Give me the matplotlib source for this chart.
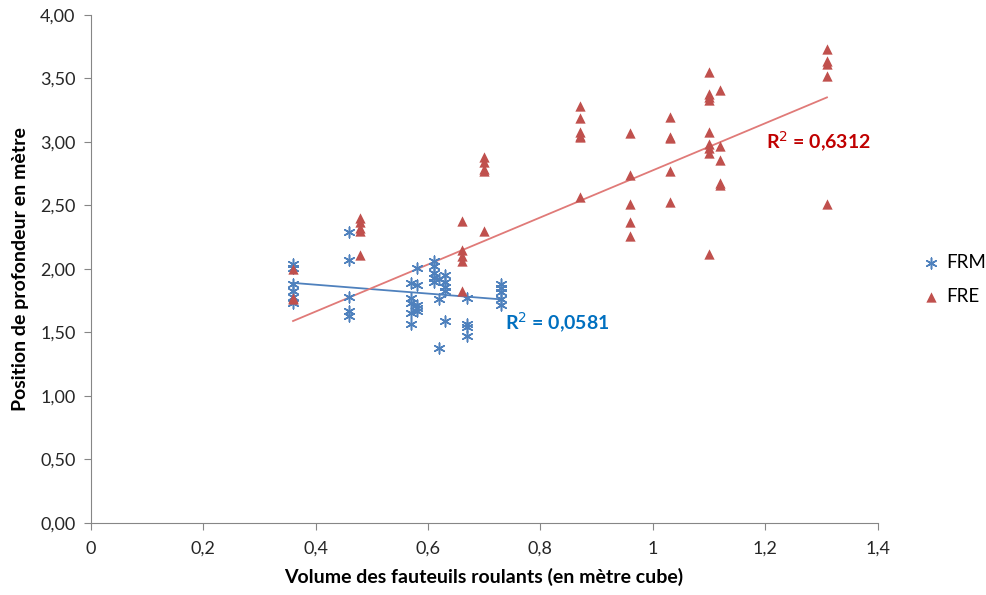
import matplotlib.pyplot as plt
import numpy as np

plt.rcParams['font.family'] = ['Lato', 'DejaVu Sans']

# FRM series (volume, depth)
frm_x = [0.36] * 6 + [0.46] * 5 + [0.57] * 5 + [0.58] * 5 + [0.61] * 5 + [0.62] * 3 + [0.63] * 5 + [0.67] * 4 + [0.73] * 5
frm_y = [2.04, 2.01, 1.88, 1.83, 1.78, 1.73,
         2.29, 2.07, 1.78, 1.67, 1.63,
         1.89, 1.77, 1.73, 1.65, 1.57,
         2.01, 1.87, 1.72, 1.69, 1.67,
         2.06, 2.02, 1.97, 1.93, 1.90,
         1.92, 1.76, 1.38,
         1.95, 1.90, 1.86, 1.83, 1.59,
         1.77, 1.57, 1.54, 1.47,
         1.88, 1.85, 1.82, 1.76, 1.72]

# FRE series
fre_x = [0.36] * 3 + [0.48] * 5 + [0.66] * 5 + [0.70] * 5 + [0.87] * 6 + [0.96] * 5 + [1.03] * 5 + [1.10] * 9 + [1.12] * 5 + [1.31] * 5
fre_y = [2.00, 1.77, 1.76,
         2.40, 2.37, 2.32, 2.30, 2.11,
         2.38, 2.15, 2.10, 2.06, 1.83,
         2.88, 2.84, 2.79, 2.77, 2.30,
         3.28, 3.19, 3.08, 3.05, 3.04, 2.57,
         3.07, 2.74, 2.51, 2.37, 2.26,
         3.20, 3.04, 3.03, 2.77, 2.53,
         3.55, 3.38, 3.35, 3.33, 3.08, 2.98, 2.95, 2.91, 2.12,
         3.41, 2.97, 2.86, 2.68, 2.66,
         3.73, 3.64, 3.61, 3.52, 2.51]

# trendline coefficients (slope, intercept)
frm_trend = [-0.35, 2.016]
fre_trend = [1.853, 0.923]

frm_r2 = 'R$^2$ = 0,0581'
fre_r2 = 'R$^2$ = 0,6312'

blue = '#4F81BD'
red = '#C0504D'

fig = plt.figure(figsize=(9.86, 5.95), dpi=100)
ax = fig.add_axes([0.092, 0.121, 0.798, 0.854])

ax.scatter(frm_x, frm_y, marker=(6, 2, 0), s=60, color=blue, linewidths=1.1, label='FRM', zorder=3)
ax.scatter(fre_x, fre_y, marker='^', s=55, color=red, linewidths=0, label='FRE', zorder=3)

# linear trendlines over each series' x-range
for xs, (a, b), c in [(frm_x, frm_trend, blue), (fre_x, fre_trend, '#E07A78')]:
    xx = np.array([min(xs), max(xs)])
    ax.plot(xx, a * xx + b, color=c, lw=1.3, zorder=2)

ax.text(0.737, 1.575, frm_r2, color='#0070C0', fontsize=14, fontweight='bold', va='center')
ax.text(1.201, 3.0, fre_r2, color='#C00000', fontsize=14, fontweight='bold', va='center')

ax.set_xlim(0, 1.4)
ax.set_ylim(0, 4)
ax.set_xticks(np.arange(0, 1.41, 0.2))
ax.set_xticklabels(['0', '0,2', '0,4', '0,6', '0,8', '1', '1,2', '1,4'])
ax.set_yticks(np.arange(0, 4.01, 0.5))
ax.set_yticklabels([f'{v:.2f}'.replace('.', ',') for v in np.arange(0, 4.01, 0.5)])
ax.tick_params(labelsize=13, colors='#262626', length=5, color='#868686')
ax.tick_params(axis='y', pad=6)
ax.tick_params(axis='x', pad=8)

for s in ['top', 'right']:
    ax.spines[s].set_visible(False)
for s in ['left', 'bottom']:
    ax.spines[s].set_color('#868686')

ax.set_xlabel('Volume des fauteuils roulants (en mètre cube)', fontsize=14, fontweight='bold', labelpad=8)
ax.set_ylabel('Position de profondeur en mètre', fontsize=14, fontweight='bold', labelpad=8)

ax.legend(loc='center left', bbox_to_anchor=(1.035, 0.48), frameon=False, fontsize=13.5,
          handletextpad=0.3, labelspacing=0.9, handlelength=1)

fig.savefig('out.png', dpi=100)
